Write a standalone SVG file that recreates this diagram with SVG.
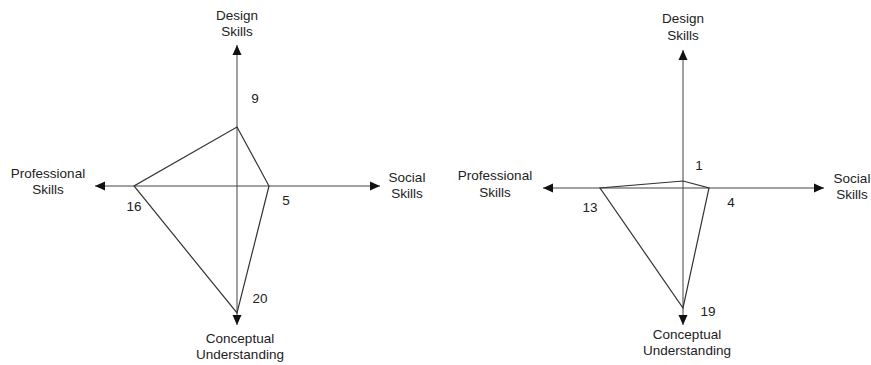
<svg xmlns="http://www.w3.org/2000/svg" width="871" height="365" viewBox="0 0 871 365">
<style>
text{font-family:"Liberation Sans",Arial,sans-serif;font-size:13.5px;fill:#222}
.c{text-anchor:middle}
.ax{stroke:#444;stroke-width:1;fill:none}
.pl{stroke:#333;stroke-width:1.2;fill:none;stroke-linejoin:miter}
</style>
<defs>
<marker id="ah" viewBox="0 0 10 10" refX="10" refY="5" markerWidth="10" markerHeight="10" markerUnits="userSpaceOnUse" orient="auto">
<path d="M0,0.5 L10,5 L0,9.5 z" fill="#111"/>
</marker>
</defs>
<g id="connectors">
<line class="ax" x1="237" y1="186" x2="237" y2="45" marker-end="url(#ah)"/>
<line class="ax" x1="237" y1="186" x2="237" y2="325" marker-end="url(#ah)"/>
<line class="ax" x1="237" y1="186" x2="95" y2="186" marker-end="url(#ah)"/>
<line class="ax" x1="237" y1="186" x2="380" y2="186" marker-end="url(#ah)"/>
<line class="ax" x1="683" y1="188" x2="683" y2="50" marker-end="url(#ah)"/>
<line class="ax" x1="683" y1="188" x2="683" y2="325" marker-end="url(#ah)"/>
<line class="ax" x1="683" y1="188" x2="543" y2="188" marker-end="url(#ah)"/>
<line class="ax" x1="683" y1="188" x2="824" y2="188" marker-end="url(#ah)"/>
</g>
<g id="chart1-polygon"><polygon class="pl" points="237,127 269,186 237,313 134,186"/></g>
<g id="chart2-polygon"><polygon class="pl" points="683,181 709,188 683,308 600,188"/></g>
<g id="chart1-labels">
<text class="c" x="237" y="20">Design</text>
<text class="c" x="237" y="36">Skills</text>
<text class="c" x="48" y="178">Professional</text>
<text class="c" x="48" y="194">Skills</text>
<text class="c" x="407" y="182">Social</text>
<text class="c" x="407" y="198">Skills</text>
<text class="c" x="240" y="343">Conceptual</text>
<text class="c" x="240" y="359">Understanding</text>
<text class="c" x="255" y="103">9</text>
<text class="c" x="286" y="205">5</text>
<text class="c" x="134" y="211">16</text>
<text class="c" x="260" y="303">20</text>
</g>
<g id="chart2-labels">
<text class="c" x="683" y="23">Design</text>
<text class="c" x="683" y="40">Skills</text>
<text class="c" x="495" y="180">Professional</text>
<text class="c" x="495" y="197">Skills</text>
<text class="c" x="852" y="183">Social</text>
<text class="c" x="852" y="199">Skills</text>
<text class="c" x="687" y="339">Conceptual</text>
<text class="c" x="687" y="355">Understanding</text>
<text class="c" x="699" y="170">1</text>
<text class="c" x="731" y="207">4</text>
<text class="c" x="590" y="212">13</text>
<text class="c" x="708" y="316">19</text>
</g>
</svg>
